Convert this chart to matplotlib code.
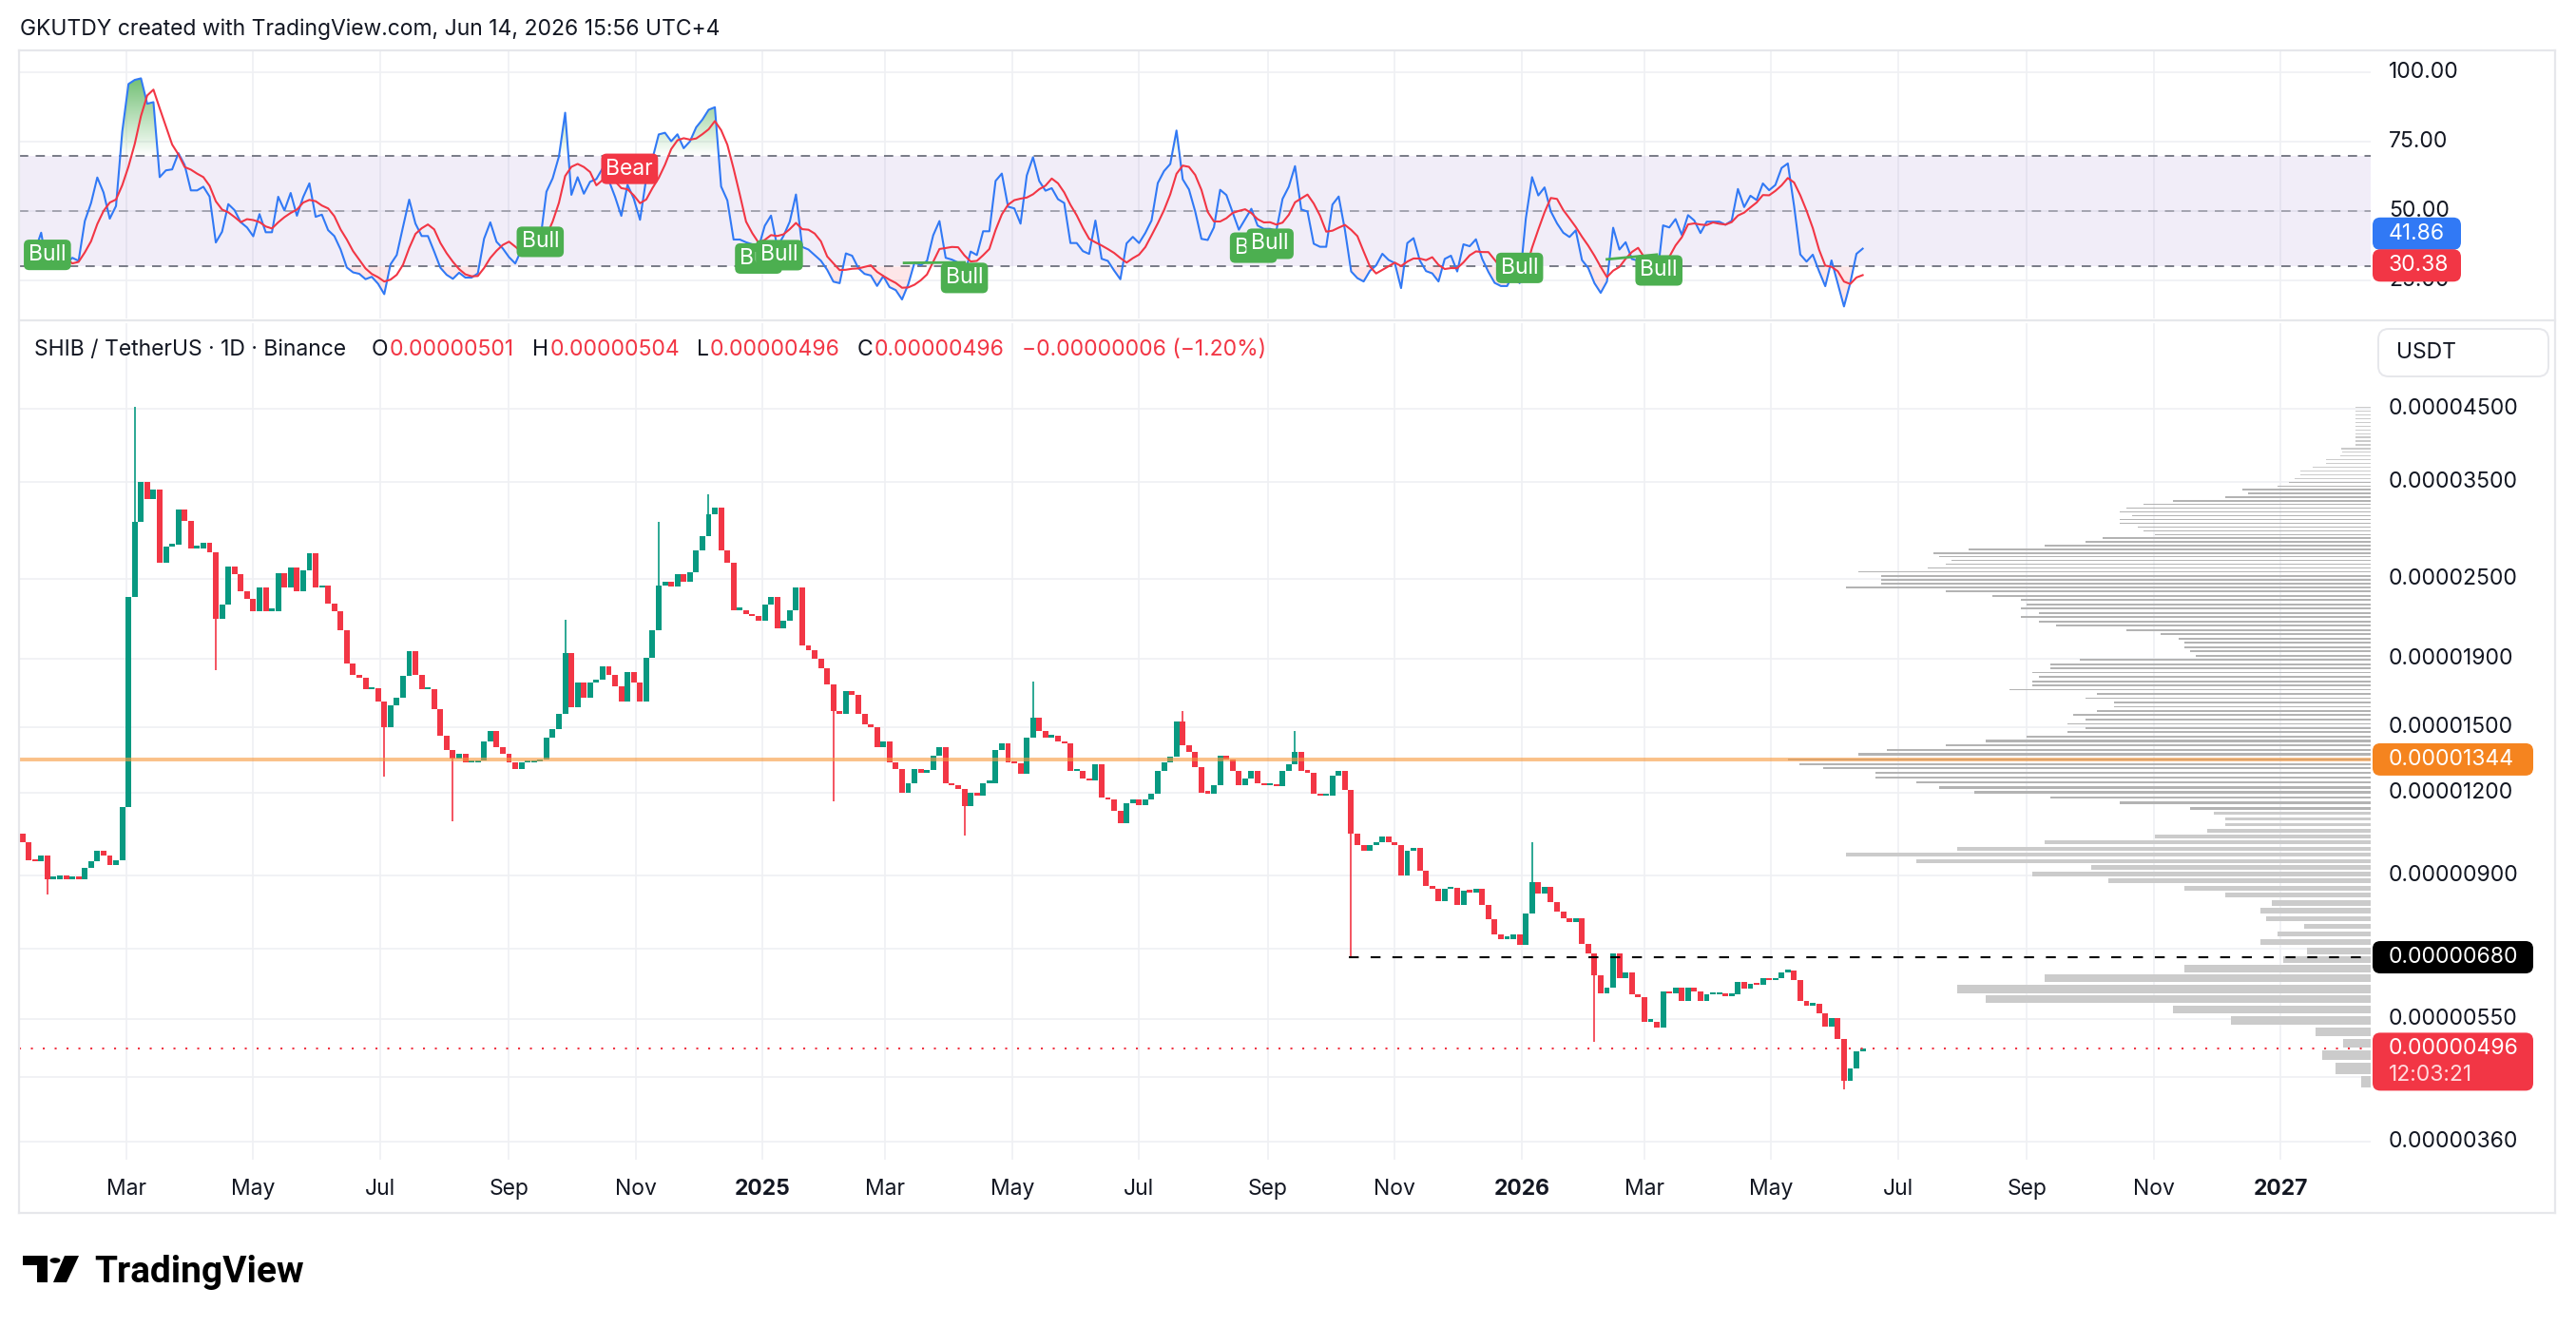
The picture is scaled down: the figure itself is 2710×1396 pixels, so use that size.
import numpy as np
import pandas as pd
import matplotlib

matplotlib.use("Agg")
import matplotlib.pyplot as plt
from matplotlib.colors import LinearSegmentedColormap
from matplotlib.lines import Line2D
from matplotlib.patches import FancyBboxPatch, Polygon, Circle
from matplotlib.path import Path

plt.rcParams["font.family"] = ["Inter", "DejaVu Sans"]

W, H = 2710, 1396
BASE = pd.Timestamp("2024-01-01")

# ---- SHIB / USDT, every 3 days (prices in 1e-8 USDT) ----
first_bar = "2024-01-11"
bar_days = 3
first_open = 1040
closes = [
    1010, 950, 945, 965, 890, 890, 900, 890, 895, 890,
    925, 945, 980, 965, 935, 950, 1140, 2350, 3050, 3500,
    3300, 3400, 2650, 2800, 2820, 3180, 3060, 2780, 2780, 2830,
    2740, 2180, 2290, 2610, 2540, 2400, 2340, 2240, 2430, 2240,
    2240, 2550, 2430, 2600, 2400, 2580, 2730, 2430, 2450, 2300,
    2240, 2100, 1870, 1800, 1780, 1710, 1720, 1640, 1500, 1620,
    1660, 1790, 1950, 1800, 1710, 1710, 1600, 1460, 1390, 1350,
    1370, 1330, 1330, 1340, 1430, 1480, 1400, 1370, 1330, 1300,
    1330, 1330, 1335, 1345, 1450, 1490, 1570, 1940, 1610, 1750,
    1660, 1750, 1770, 1850, 1800, 1730, 1640, 1815, 1750, 1640,
    1910, 2100, 2450, 2480, 2440, 2540, 2480, 2560, 2760, 2900,
    3130, 3200, 2760, 2650, 2250, 2250, 2220, 2200, 2170, 2290,
    2350, 2110, 2170, 2250, 2430, 1990, 1960, 1900, 1840, 1740,
    1590, 1570, 1700, 1680, 1570, 1515, 1500, 1400, 1430, 1330,
    1300, 1200, 1240, 1300, 1285, 1295, 1360, 1400, 1240, 1230,
    1215, 1145, 1200, 1185, 1240, 1240, 1390, 1420, 1330, 1325,
    1280, 1450, 1550, 1480, 1450, 1460, 1430, 1420, 1290, 1290,
    1260, 1250, 1320, 1180, 1170, 1125, 1080, 1155, 1170, 1150,
    1170, 1195, 1290, 1330, 1355, 1530, 1410, 1380, 1310, 1200,
    1195, 1230, 1360, 1344, 1290, 1230, 1260, 1290, 1240, 1230,
    1230, 1225, 1290, 1320, 1380, 1290, 1285, 1195, 1185, 1185,
    1270, 1290, 1210, 1040, 1000, 980, 1000, 1010, 1030, 1010,
    1000, 900, 980, 990, 915, 870, 860, 825, 860, 865,
    814, 856, 851, 861, 814, 775, 736, 724, 724, 736,
    710, 790, 880, 847, 866, 822, 797, 777, 768, 777,
    712, 690, 640, 600, 613, 690, 633, 645, 598, 593,
    545, 545, 533, 604, 600, 612, 585, 612, 604, 585,
    598, 598, 598, 595, 598, 625, 611, 621, 618, 632,
    628, 632, 646, 650, 628, 585, 576, 580, 560, 536,
    551, 513, 445, 464, 491, 496,
]

# notable wicks
wick_dates = ["2024-01-23", "2024-03-05", "2024-04-13", "2024-07-03", "2024-08-05",
              "2024-09-27", "2024-11-12", "2024-12-05", "2025-02-03", "2025-04-07",
              "2025-05-11", "2025-07-21", "2025-09-14", "2025-10-10", "2026-01-06",
              "2026-02-05", "2026-06-05"]
wick_prices = [843, 4520, 1830, 1265, 1085, 2174, 3047, 3350, 1163, 1034,
               1760, 1590, 1481, 680, 1010, 508, 431]

tick_dates = ["2024-03-01", "2024-05-01", "2024-07-01", "2024-09-01", "2024-11-01",
              "2025-01-01", "2025-03-01", "2025-05-01", "2025-07-01", "2025-09-01",
              "2025-11-01", "2026-01-01", "2026-03-01", "2026-05-01", "2026-07-01",
              "2026-09-01", "2026-11-01", "2027-01-01"]
tick_labels = ["Mar", "May", "Jul", "Sep", "Nov", "2025", "Mar", "May", "Jul", "Sep",
               "Nov", "2026", "Mar", "May", "Jul", "Sep", "Nov", "2027"]
price_grid = [4500, 3500, 2500, 1900, 1500, 1200, 900, 700, 550, 450, 360]
price_labels = [4500, 3500, 2500, 1900, 1500, 1200, 900, 550, 360]
rsi_ticks = [100, 75, 50, 25]

# visible-range volume profile (row price, volume in % of POC)
vp_price = [443, 464, 486, 505, 526, 547, 568, 588, 610, 633,
            654, 675, 695, 717, 737, 757, 777, 797, 821, 842,
            864, 885, 905, 927, 947, 968, 988, 1010, 1031, 1052,
            1074, 1094, 1116, 1137, 1158, 1179, 1199, 1221, 1241, 1262,
            1283, 1304, 1324, 1344, 1368, 1389, 1409, 1433, 1454, 1476,
            1497, 1519, 1542, 1565, 1588, 1611, 1635, 1660, 1684, 1709,
            1734, 1760, 1786, 1813, 1839, 1867, 1894, 1922, 1951, 1980,
            2009, 2039, 2069, 2099, 2130, 2162, 2194, 2226, 2259, 2293,
            2327, 2361, 2396, 2432, 2463, 2495, 2528, 2565, 2598, 2632,
            2666, 2700, 2735, 2771, 2806, 2843, 2880, 2917, 2955, 2993,
            3032, 3071, 3110, 3151, 3191, 3233, 3275, 3317, 3360, 3403,
            3447, 3492, 3537, 3583, 3630, 3677, 3724, 3772, 3821, 3871,
            3921, 3972, 4023, 4075, 4128, 4181, 4235, 4290, 4346, 4402,
            4459, 4517]
vp_vol = [1.6, 6, 8.3, 4.7, 9.5, 24, 34, 66, 71, 56,
          32, 15, 11, 19, 16, 11.5, 18, 19, 17, 25,
          32, 45, 58, 48, 78, 90, 71, 56, 37, 28,
          25, 25, 27, 31, 43, 55, 68, 74, 78, 85,
          85, 94, 98, 100, 88, 83, 73, 66, 59, 52,
          49, 52, 49, 51, 47, 44, 44, 49, 47, 62,
          58, 58, 57, 58, 55, 55, 50, 30, 31, 32,
          32, 33, 36, 42, 54, 57, 60, 57, 60, 59,
          60, 65, 73, 90, 84, 84, 84, 88, 76, 73,
          72, 74, 75, 69, 56, 49, 46, 37, 39, 40,
          43, 43, 41, 43, 42, 39, 34, 25, 21, 22,
          16, 14, 13, 12, 12, 10, 7.6, 7.6, 5.2, 4.9,
          5, 2.6, 2.6, 2.6, 2.6, 2.6, 2.6, 2.6, 2.6, 2.6,
          2.6, 2.6]

poc_price = 1344
crash_low = 680
crash_date = "2025-10-10"
last_close = 496
countdown = "12:03:21"
rsi_last, rsi_ma_last = 41.86, 30.38

sig_dates = ["2024-01-23", "2024-09-16", "2024-10-29", "2024-12-30", "2025-01-09",
             "2025-04-08", "2025-08-25", "2025-09-02", "2025-12-31", "2026-03-08"]
sig_rsi = [34.2, 38.9, 65.2, 32.9, 34.1, 25.9, 36.8, 38.2, 29.5, 28.6]
sig_text = ["Bull", "Bull", "Bear", "Bull", "Bull", "Bull", "Bull", "Bull", "Bull", "Bull"]
div_from = [("2025-03-10", 31.3), ("2026-02-11", 32.6)]
div_to = [("2025-04-08", 31.5), ("2026-03-07", 34.3)]

GREEN, RED = "#089981", "#F23645"
INK = "#131722"
GRID = "#EFF0F3"
FRAME = "#E6E7EB"
BLUE = "#3179F5"
LBL_GREEN = "#4CAF50"
ORANGE_TAG = "#F5841F"
FS = 16.5


def day(s):
    return (pd.Timestamp(s) - BASE).days


def fx(px):
    return px / W


def fy(py):
    return 1 - py / H


x_left, x_right = 8.35, 1139.3
L, R = 20, 2494

fig = plt.figure(figsize=(W / 100, H / 100), dpi=100)
ax_r = fig.add_axes([fx(L), fy(335), (R - L) / W, (335 - 53) / H])
ax = fig.add_axes([fx(L), fy(1220), (R - L) / W, (1220 - 340) / H])
ax.set_yscale("log")
for a in (ax_r, ax):
    for s in a.spines.values():
        s.set_visible(False)
    a.set_xticks([])
    a.set_yticks([])
    a.set_yticks([], minor=True)
    a.tick_params(which="both", left=False, bottom=False, labelleft=False, labelbottom=False)

tick_x = [day(t) for t in tick_dates]
for a in (ax_r, ax):
    for t in tick_x:
        a.axvline(t, color=GRID, lw=1.2, zorder=0)
for p in price_grid:
    ax.axhline(p, color=GRID, lw=1.2, zorder=0)
for r in rsi_ticks:
    ax_r.axhline(r, color=GRID, lw=1.2, zorder=0)

# ---- candles ----
d0 = day(first_bar)
x = d0 + bar_days * np.arange(len(closes))
c = np.array(closes, float)
o = np.r_[first_open, c[:-1]]
body_lo, body_hi = np.minimum(o, c), np.maximum(o, c)
hi, lo = body_hi.copy(), body_lo.copy()
for dt, p in zip(wick_dates, wick_prices):
    k = int(round((day(dt) - d0) / bar_days))
    hi[k] = max(hi[k], p)
    lo[k] = min(lo[k], p)
col = np.where(c >= o, GREEN, RED)
ax.vlines(x, lo, hi, colors=col, lw=1.2, zorder=3)
ax.bar(x, np.maximum(body_hi - body_lo, body_lo * 0.008), bottom=body_lo, width=2.7,
       color=col, zorder=3)

# ---- volume profile ----
vp_p = np.array(vp_price, float)
vp_v = np.array(vp_vol, float)
lnp = np.log(vp_p)
edges = np.r_[lnp[0] - (lnp[1] - lnp[0]) / 2, (lnp[1:] + lnp[:-1]) / 2,
              lnp[-1] + (lnp[-1] - lnp[-2]) / 2]
gap = 2.6 / 305.5
row_lo = np.exp(edges[:-1] + gap / 2)
row_hi = np.exp(edges[1:] - gap / 2)
vp_len = vp_v / 100 * 280.2
vp_col = np.where((vp_p >= 1130) & (vp_p <= 3500), "#B3B3B3", "#CBCBCB")
ax.barh(row_lo, vp_len, height=row_hi - row_lo, left=x_right - vp_len, align="edge",
        color=vp_col, zorder=2)

# levels
ax.axhline(poc_price, color="#F89A40", alpha=0.62, lw=2.8, zorder=4)
ax.hlines(crash_low, day(crash_date), x_right, colors="black", lw=1.5,
          linestyles=(0, (5, 6)), zorder=4)
ax.axhline(last_close, color=RED, lw=1.5, ls=(0, (1, 5)), zorder=4)

ax.set_xlim(x_left, x_right)
ax.set_ylim(338.6, 6038)

# ---- RSI (Wilder smoothing on the 3-day closes, neutral start) ----
n = 8
deltas = np.diff(c)
avg_up = avg_dn = np.mean(np.abs(deltas[:n])) / 2
rsi = [np.nan]
for dlt in deltas:
    avg_up = (avg_up * (n - 1) + max(dlt, 0)) / n
    avg_dn = (avg_dn * (n - 1) + max(-dlt, 0)) / n
    rsi.append(100 - 100 / (1 + avg_up / avg_dn))
rsi = np.array(rsi)
rsi_ma = pd.Series(rsi).rolling(5, min_periods=1).mean().to_numpy()

ax_r.axhspan(30, 70, color="#7E57C2", alpha=0.1, lw=0, zorder=1)
ax_r.axhline(70, color="#787B86", lw=1.4, ls=(0, (5, 4)), zorder=2)
ax_r.axhline(50, color="#787B86", alpha=0.6, lw=1.4, ls=(0, (5, 4)), zorder=2)
ax_r.axhline(30, color="#787B86", lw=1.4, ls=(0, (5, 4)), zorder=2)

ob = ax_r.fill_between(x, rsi, 70, where=rsi > 70, interpolate=True, facecolor="none",
                       edgecolor="none")
paths = ob.get_paths()
if paths:
    cmap = LinearSegmentedColormap.from_list(
        "ob", [(0.30, 0.69, 0.31, 0.0), (0.30, 0.69, 0.31, 0.85)])
    im = ax_r.imshow(np.linspace(0, 1, 256)[:, None], extent=[x_left, x_right, 70, 100],
                     origin="lower", aspect="auto", cmap=cmap, zorder=2)
    im.set_clip_path(Path.make_compound_path(*paths), transform=ax_r.transData)
ax_r.fill_between(x, rsi, 30, where=rsi < 30, interpolate=True, color=RED, alpha=0.12,
                  lw=0, zorder=2)
ax_r.plot(x, rsi, color=BLUE, lw=1.5, zorder=4)
ax_r.plot(x, rsi_ma, color=RED, lw=1.5, zorder=5)
for (a, r1), (b, r2) in zip(div_from, div_to):
    ax_r.plot([day(a), day(b)], [r1, r2], color=LBL_GREEN, lw=2, zorder=5)
for dt, r, t in zip(sig_dates, sig_rsi, sig_text):
    ax_r.text(day(dt), r, t, ha="center", va="center", color="white", fontsize=FS,
              zorder=6, bbox=dict(boxstyle="round,pad=0.22,rounding_size=0.25",
                                  fc=LBL_GREEN if t == "Bull" else RED, ec="none"))
ax_r.set_xlim(x_left, x_right)
ax_r.set_ylim(11.3, 107.88)

# ---- axis labels ----
AXX = (2513 - L) / (R - L)
for p in price_labels:
    ax.text(AXX, p, f"{p * 1e-8:.8f}", transform=ax.get_yaxis_transform(), ha="left",
            va="center", fontsize=FS, color=INK, clip_on=False)
for r in rsi_ticks:
    ax_r.text(AXX, r, f"{r:.2f}", transform=ax_r.get_yaxis_transform(), ha="left",
              va="center", fontsize=FS, color=INK, clip_on=False)
for t, lab in zip(tick_x, tick_labels):
    ax.text(t, -31 / 880, lab, transform=ax.get_xaxis_transform(), ha="center",
            va="center", fontsize=FS, color=INK, clip_on=False,
            fontweight="bold" if lab.isdigit() else "normal")


def ypx(a, val):
    return H - a.transData.transform((x_left, val))[1]


def tag(a, val, lines, fc, x1, top_off=17, h=34):
    yc = ypx(a, val)
    fig.add_artist(FancyBboxPatch((fx(2496), fy(yc - top_off + h)), (x1 - 2496) / W, h / H,
                                  boxstyle="round,pad=0,rounding_size=0.003",
                                  mutation_aspect=W / H, transform=fig.transFigure,
                                  fc=fc, ec="none", zorder=5))
    for i, s in enumerate(lines):
        fig.text(fx(2513), fy(yc + 28 * i), s, ha="left", va="center", fontsize=FS,
                 color="white" if i == 0 else "#FFD9DC", zorder=6)


tag(ax_r, rsi_last, [f"{rsi_last:.2f}"], BLUE, 2589)
tag(ax_r, rsi_ma_last, [f"{rsi_ma_last:.2f}"], RED, 2589)
tag(ax, poc_price, [f"{poc_price * 1e-8:.8f}"], ORANGE_TAG, 2665)
tag(ax, crash_low, [f"{crash_low * 1e-8:.8f}"], "black", 2665)
tag(ax, last_close, [f"{last_close * 1e-8:.8f}", countdown], RED, 2665, top_off=17, h=61)

# ---- frame ----
for (x0, y0, x1, y1) in [(20, 53, 2688, 53), (20, 337, 2688, 337), (20, 1276, 2688, 1276),
                         (20, 53, 20, 1276), (2688, 53, 2688, 1276)]:
    fig.add_artist(Line2D([fx(x0), fx(x1)], [fy(y0), fy(y1)], color=FRAME, lw=1.6))

fig.add_artist(FancyBboxPatch((fx(2502), fy(396)), 179 / W, 50 / H,
                              boxstyle="round,pad=0,rounding_size=0.004",
                              mutation_aspect=W / H, transform=fig.transFigure,
                              fc="white", ec=FRAME, lw=1.4))
fig.text(fx(2521), fy(371), "USDT", ha="left", va="center", fontsize=FS, color=INK)

# ---- texts ----
fig.text(fx(21), fy(31), "GKUTDY created with TradingView.com, Jun 14, 2026 15:56 UTC+4",
         ha="left", va="center", fontsize=FS, color=INK)
legend = [(36, "SHIB / TetherUS · 1D · Binance", INK), (391, "O", INK),
          (410, "0.00000501", RED), (560, "H", INK), (579, "0.00000504", RED),
          (733, "L", INK), (747, "0.00000496", RED), (902, "C", INK),
          (920, "0.00000496", RED), (1075, "−0.00000006 (−1.20%)", RED)]
for px, s, cl in legend:
    fig.text(fx(px), fy(368), s, ha="left", va="center", fontsize=FS, color=cl)

# TradingView logo
fig.add_artist(Polygon([(fx(24), fy(1321)), (fx(50), fy(1321)), (fx(50), fy(1349)),
                        (fx(39), fy(1349)), (fx(39), fy(1331)), (fx(24), fy(1331))],
                       closed=True, transform=fig.transFigure, fc="black", ec="none"))
fig.add_artist(Circle((fx(58), fy(1326)), 5.5 / W, transform=fig.transFigure,
                      fc="black", ec="none"))
fig.add_artist(Polygon([(fx(68), fy(1321)), (fx(83), fy(1321)), (fx(70), fy(1349)),
                        (fx(56), fy(1349))], closed=True, transform=fig.transFigure,
                       fc="black", ec="none"))
fig.text(fx(99), fy(1349), "TradingView", ha="left", va="baseline", fontsize=28,
         fontweight="bold", family=["Roboto", "DejaVu Sans"], color="black")

fig.savefig("out.png", dpi=100, facecolor="white")
